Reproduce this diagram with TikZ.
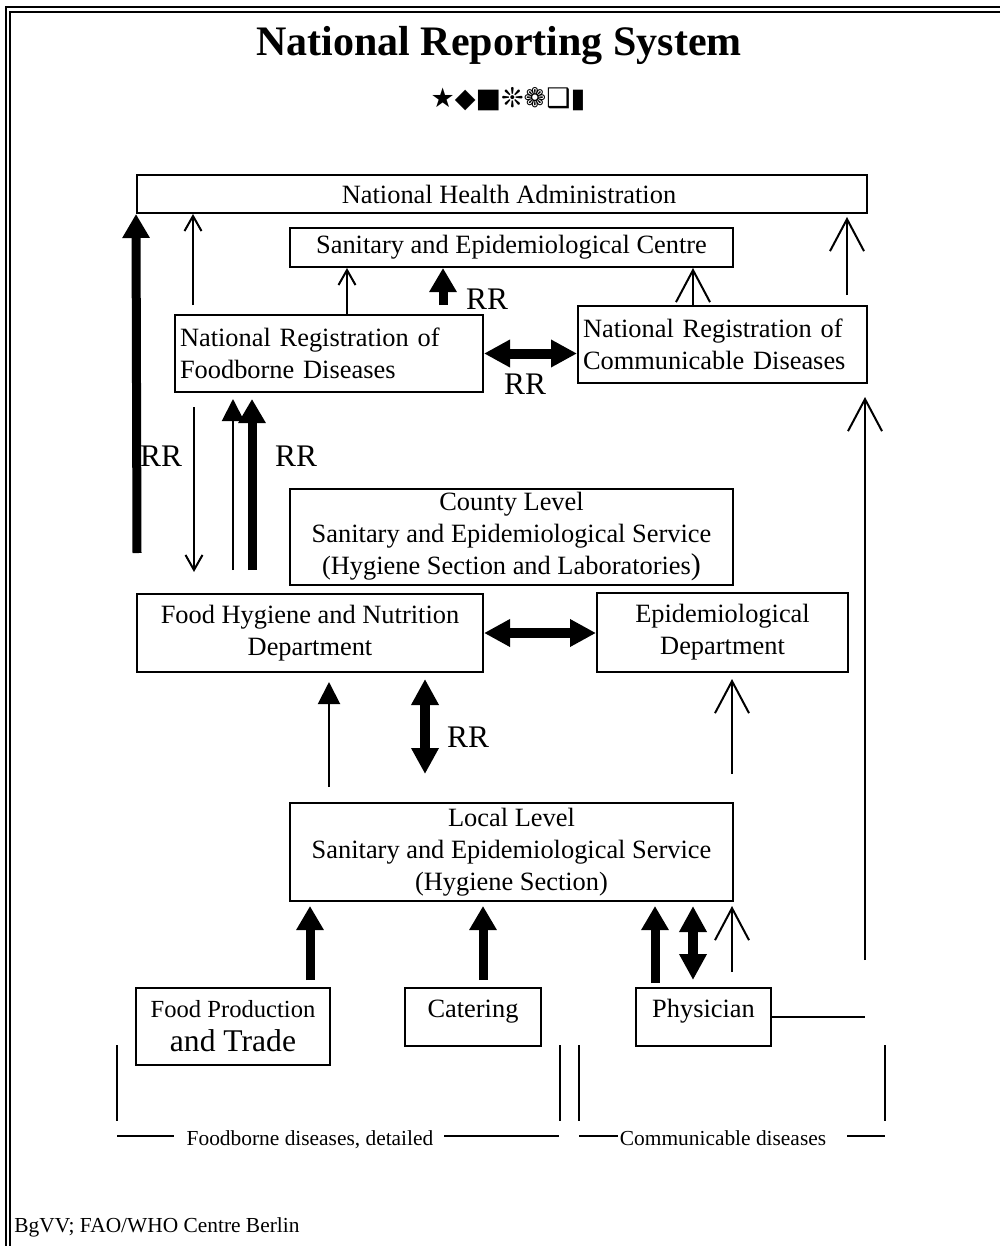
\documentclass[tikz,border=0pt]{standalone}
\usepackage{fontspec}
\setmainfont{Liberation Serif}
\newfontfamily\simbolos{DejaVu Sans}
\usetikzlibrary{arrows.meta, positioning, calc}
\tikzset{
  caixa/.style={
    draw, line width=1pt, inner sep=0pt, align=center,
    font=\fontsize{13.2}{16}\selectfont
  },
  seta/.style={-{Straight Barb[length=7.5pt, width=8.5pt]}, line width=1pt},
  setaAberta/.style={-{Straight Barb[length=16pt, width=17pt]}, line width=1pt},
  setaCheia/.style={-{Triangle[length=11pt, width=11pt]}, line width=1pt},
  setaGrossa/.style={-{Triangle[length=12pt, width=13pt]}, line width=4.5pt},
  setaDupla/.style={{Triangle[length=13pt, width=13pt]}-{Triangle[length=13pt, width=13pt]}, line width=5pt},
  linha/.style={line width=1pt},
}

\begin{document}
\begin{tikzpicture}[
    x=0.5pt, y=-0.5pt,
    rotulo/.style={font=\fontsize{15.7}{16}\selectfont, inner sep=0pt},
    legenda/.style={font=\fontsize{10.7}{12}\selectfont, inner sep=0pt}
]
\useasboundingbox (0,0) rectangle (1000,1246);

% moldura
\draw[linha] (6,1246) -- (6,7.5) -- (1000,7.5);
\draw[linha] (10,1246) -- (10,12) -- (1000,12);

\node[font=\fontsize{21}{24}\selectfont\bfseries, anchor=base] (titulo) at (499,56) {National Reporting System};
\node[font=\simbolos\fontsize{13.5}{16}\selectfont, anchor=base, inner sep=0pt] (icones) at (508,108) {★◆■❊❁❑▮};

% caixas
\node[caixa, minimum width=365pt, minimum height=19pt] (nha) at (502,194)
{\hspace{7pt}National Health Administration};

\node[caixa, minimum width=221.5pt, minimum height=19.5pt] (sec) at (511.5,247.5)
{Sanitary and Epidemiological Centre};

\node[caixa, align=left, inner xsep=2.5pt, text width=149pt, minimum height=38.5pt] (nrfd) at (329,353.5)
{National Registration of\\
Foodborne Diseases};

\node[caixa, align=left, inner xsep=2.5pt, text width=139.5pt, minimum height=38.5pt] (nrcd) at (722.5,344.5)
{National Registration of\\
Communicable Diseases};

\node[caixa, minimum width=221.5pt, minimum height=48pt] (county) at (511.5,537)
{County Level\\
Sanitary and Epidemiological Service\\
(Hygiene Section and Laboratories{\fontsize{15}{16}\selectfont)}};

\node[caixa, minimum width=173pt, minimum height=39pt] (fhnd) at (310,633)
{Food Hygiene and Nutrition\\
Department};

\node[caixa, minimum width=125.5pt, minimum height=39.5pt] (epi) at (722.5,632.5)
{Epidemiological\\
Department};

\node[caixa, minimum width=221.5pt, minimum height=49pt] (local) at (511.5,852)
{Local Level\\
Sanitary and Epidemiological Service\\
(Hygiene Section)};

\node[caixa, font=\fontsize{12.3}{16}\selectfont, minimum width=97pt, minimum height=38.5pt] (fpt) at (233,1026.5)
{Food Production\\[1pt]
{\fontsize{15.8}{17}\selectfont and Trade}};

\node[caixa, minimum width=68pt, text height=14.5pt, text depth=14.5pt] (cat) at (473,1017)
{Catering};

\node[caixa, minimum width=67.5pt, text height=14.5pt, text depth=14.5pt] (phy) at (703.5,1017)
{Physician};

% nivel nacional
\coordinate (bA) at (137,553);
\draw[setaGrossa] (bA) -- (nha.south west);
\coordinate (fA) at (193,305);
\draw[seta] (fA) -- (fA |- nha.south);
\draw[seta] ([xshift=9pt]nrfd.north) -- ([xshift=9pt]nrfd.north |- sec.south);
\coordinate (bB) at (443,305);
\draw[setaGrossa] (bB) -- (bB |- sec.south);
\node[rotulo] (rr1) at (487,299) {RR};
\draw[setaDupla] (nrfd.east) -- (nrcd.west |- nrfd.east);
\node[rotulo] (rr2) at (525,384) {RR};
\draw[setaAberta] ([xshift=-14.75pt]nrcd.north) -- ([xshift=-14.75pt]nrcd.north |- sec.south);
\coordinate (fD) at (847,295);
\draw[setaAberta] (fD) -- ($(fD |- nha.south)+(0,3)$);

% nivel regional
\coordinate (fE) at (194,407);
\coordinate (fF) at (194,572);
\draw[seta] (fE) -- (fF);
\coordinate (cA) at (233,570);
\draw[setaCheia] (cA) -- ($(cA |- nrfd.south)+(0,6)$);
\coordinate (bC) at (252,570);
\draw[setaGrossa] (bC) -- ($(bC |- nrfd.south)+(0,6)$);
\node[rotulo] (rr3) at (161,456) {RR};
\node[rotulo] (rr4) at (296,456) {RR};
\draw[setaDupla] (fhnd.east) -- (epi.west |- fhnd.east);
\coordinate (cB) at (329,787);
\draw[setaCheia] (cB) -- ($(cB |- fhnd.south)+(0,9)$);
\coordinate (dA) at (425,774);
\coordinate (dB) at (425,679);
\draw[setaDupla] (dA) -- (dB);
\node[rotulo] (rr5) at (468,737) {RR};
\coordinate (fG) at (732,774);
\draw[setaAberta] (fG) -- ($(fG |- epi.south)+(0,6)$);

% nivel local
\coordinate (bD) at (310,980);
\draw[setaGrossa] (bD) -- ($(bD |- local.south)+(0,4)$);
\coordinate (bE) at (483,980);
\draw[setaGrossa] (bE) -- ($(bE |- local.south)+(0,4)$);
\coordinate (bF) at (655,983);
\draw[setaGrossa] (bF) -- ($(bF |- local.south)+(0,4)$);
\coordinate (dC) at (693,980);
\draw[setaDupla] (dC) -- ($(dC |- local.south)+(0,4)$);
\coordinate (fH) at (732,972);
\draw[setaAberta] (fH) -- ($(fH |- local.south)+(0,4)$);
\coordinate (pA) at (865,960);
\coordinate (pB) at (865,397);
\draw[setaAberta] (pA) -- (pB);
\draw[linha] (phy.east) -- (phy.east -| pA);

% chaves
\draw[linha] (117,1045) -- (117,1121);
\draw[linha] (560,1045) -- (560,1121);
\draw[linha] (579,1045) -- (579,1121);
\draw[linha] (885,1045) -- (885,1121);
\draw[linha] (117,1136) -- (174,1136);
\draw[linha] (444,1136) -- (559,1136);
\draw[linha] (579,1136) -- (618,1136);
\draw[linha] (847,1136) -- (885,1136);
\node[legenda, anchor=base] (fd) at (310,1145) {Foodborne diseases, detailed};
\node[legenda, anchor=base] (cd) at (723,1145) {Communicable diseases};

\node[legenda, anchor=base west] (fonte) at (14,1232) {BgVV; FAO/WHO Centre Berlin};

\end{tikzpicture}
\end{document}
